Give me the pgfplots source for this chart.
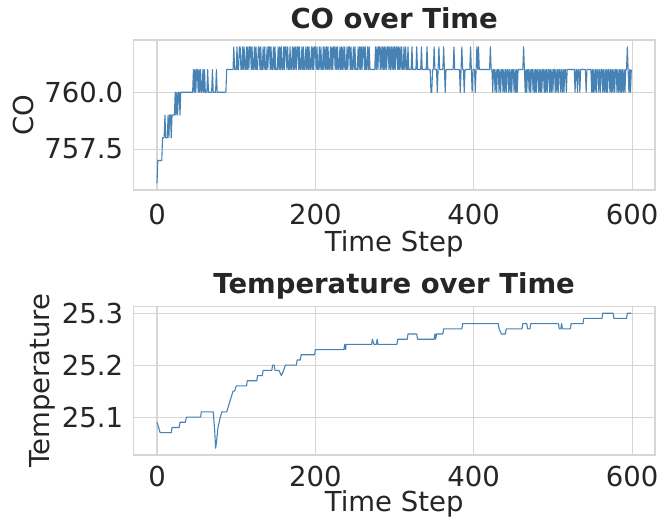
\documentclass[border=0pt]{standalone}
\usepackage{fontspec}
\setmainfont{DejaVu Sans}
\usepackage{pgfplots}
\pgfplotsset{compat=1.18}
\definecolor{txt}{HTML}{262626}
\definecolor{gridc}{HTML}{D6D6D6}
\definecolor{linec}{HTML}{4682B4}
\pgfplotsset{
  myax/.style={
    scale only axis, width=521.7pt,
    xmin=-29.95, xmax=628.95,
    xtick={0,200,400,600},
    grid=major, major grid style={gridc, line width=1.1pt},
    axis line style={gridc, line width=1.1pt},
    major tick length=0pt, tick style={draw=none},
    font=\fontsize{27.5}{33}\selectfont,
    /pgf/number format/assume math mode=true,
    ticklabel style={text=txt, inner sep=0pt},
    yticklabel style={anchor=east, xshift=-10pt, /pgf/number format/.cd, fixed, fixed zerofill, precision=1},
    title style={font=\fontsize{27.5}{33}\selectfont\bfseries, text=txt, inner sep=0pt, anchor=base, at={(axis description cs:0.5,1)}},
    label style={text=txt, inner sep=0pt},
    xlabel={Time Step},
  },
}
\begin{document}
\begin{tikzpicture}
\useasboundingbox (0,0) rectangle (661pt,522pt);
% ---------------- CO ----------------
\begin{axis}[myax, at={(133.3pt,332pt)}, anchor=south west, height=150pt,
  ymin=755.7, ymax=762.3, ytick={757.5,760},
  title={CO over Time}, title style={yshift=5.7pt},
  ylabel={CO}, ylabel style={at={(axis description cs:-0.1917,0.5)}, anchor=base},
  xticklabel style={anchor=base, yshift=-35pt},
  xlabel style={at={(axis description cs:0.5,0)}, anchor=base, yshift=-61.7pt}]
\addplot[linec, line width=1.1pt, no markers, line join=round] table[row sep=\\] {
x y\\
0 756\\1 757\\6 757\\7 758\\9 758\\10 759\\11 758\\13 758\\14 759\\15 758\\16 759\\17 759\\18 758\\19 759\\22 759\\23 760\\24 759\\25 760\\26 759\\27 760\\28 760\\29 759\\30 760\\45 760\\
46 761\\47 760\\48 761\\49 760\\50 761\\51 761\\52 760\\53 761\\54 760\\55 761\\56 760\\57 760\\58 761\\59 760\\60 761\\61 760\\63 760\\64 761\\65 760\\69 760\\70 761\\71 760\\74 760\\75 761\\76 760\\87 760\\88 761\\96 761\\
97 762\\98 761\\99 761\\100 761\\101 762\\102 761\\103 761\\104 762\\105 762\\106 761\\
107 761\\108 762\\109 761\\110 762\\111 761\\112 761\\113 762\\114 761\\115 762\\116 761\\
117 762\\118 762\\119 761\\120 762\\121 761\\122 761\\123 762\\124 761\\125 762\\126 761\\
127 761\\128 762\\129 762\\130 761\\131 762\\132 761\\133 761\\134 762\\135 761\\136 762\\
137 761\\138 761\\139 762\\140 761\\141 762\\142 762\\143 761\\144 762\\145 761\\146 761\\
147 762\\148 761\\149 762\\150 761\\151 761\\152 761\\153 762\\154 761\\155 762\\156 761\\
157 762\\158 761\\159 761\\160 762\\161 761\\162 762\\163 762\\164 761\\165 762\\166 761\\
167 761\\168 762\\169 761\\170 761\\171 762\\172 761\\173 762\\174 761\\175 762\\176 761\\
177 762\\178 762\\179 761\\180 762\\181 761\\182 761\\183 762\\184 761\\185 762\\186 761\\
187 761\\188 762\\189 761\\190 762\\191 761\\192 762\\193 761\\194 761\\195 762\\196 761\\
197 762\\198 761\\199 762\\200 762\\201 761\\202 762\\203 761\\204 761\\205 762\\206 761\\
207 762\\208 761\\209 761\\210 762\\211 761\\212 762\\213 761\\214 762\\215 761\\216 762\\
217 761\\218 761\\219 762\\220 761\\221 762\\222 761\\223 762\\224 762\\225 761\\226 762\\
227 761\\228 762\\229 761\\230 761\\231 762\\232 761\\233 762\\234 761\\235 762\\236 761\\
237 762\\238 761\\239 761\\240 762\\241 761\\242 762\\243 762\\244 761\\245 762\\246 761\\
247 761\\248 762\\249 761\\250 762\\251 761\\252 761\\253 761\\254 762\\255 761\\256 762\\
257 761\\258 762\\259 761\\260 762\\261 762\\262 761\\263 762\\264 761\\265 761\\266 762\\
267 761\\268 762\\269 761\\275 761\\276 762\\
277 761\\278 762\\279 761\\280 762\\281 762\\282 761\\283 762\\284 761\\285 762\\286 761\\
287 762\\288 761\\289 762\\290 761\\291 762\\292 762\\293 761\\294 762\\295 761\\296 762\\
297 761\\298 762\\299 761\\300 762\\301 761\\302 762\\303 762\\304 761\\305 762\\306 761\\
307 762\\308 761\\309 762\\310 761\\311 761\\312 762\\313 761\\314 762\\315 761\\316 761\\
317 762\\318 761\\321 761\\322 762\\323 761\\327 761\\328 762\\329 761\\333 761\\334 762\\335 761\\340 761\\341 762\\342 761\\345 761\\
346 760\\347 760\\348 761\\349 761\\350 762\\351 761\\353 761\\354 760\\355 761\\356 762\\357 761\\361 761\\362 762\\363 761\\364 760\\365 761\\374 761\\375 762\\376 761\\
382 761\\383 760\\384 761\\385 762\\386 761\\387 761\\388 760\\389 761\\395 761\\396 762\\397 761\\398 760\\399 761\\401 761\\402 760\\403 761\\404 762\\405 761\\406 762\\407 761\\
420 761\\421 762\\422 761\\423 761\\424 760\\425 761\\426 761\\
427 760\\428 761\\429 760\\430 761\\431 761\\432 760\\433 761\\434 760\\435 761\\436 761\\
437 760\\438 761\\439 760\\440 761\\441 760\\442 761\\443 761\\444 760\\445 761\\446 760\\
447 761\\448 760\\449 761\\450 761\\451 760\\452 761\\453 760\\454 761\\455 760\\456 761\\
462 761\\463 762\\464 761\\465 760\\466 761\\
467 760\\468 761\\469 761\\470 760\\471 761\\472 760\\473 761\\474 761\\475 760\\476 761\\
477 760\\478 761\\479 760\\480 761\\481 761\\482 760\\483 761\\484 760\\485 761\\486 760\\
487 761\\488 761\\489 760\\490 761\\491 760\\492 761\\493 760\\494 761\\495 761\\496 760\\
497 761\\498 760\\499 761\\500 760\\501 761\\502 761\\503 760\\504 761\\505 760\\506 761\\
507 760\\508 761\\509 761\\510 760\\511 761\\512 760\\513 761\\514 760\\515 761\\516 761\\
517 760\\518 761\\527 761\\528 760\\529 761\\530 761\\531 760\\532 761\\533 761\\534 760\\535 761\\541 761\\542 760\\543 761\\548 761\\
549 760\\550 761\\551 760\\552 761\\553 760\\554 761\\555 760\\556 761\\
557 761\\558 760\\559 761\\560 760\\561 761\\562 761\\563 760\\564 761\\565 760\\566 761\\
567 760\\568 761\\569 760\\570 761\\571 761\\572 760\\573 761\\574 760\\575 761\\576 760\\
577 761\\578 760\\579 761\\580 761\\581 760\\582 761\\583 760\\584 761\\585 760\\586 761\\
587 760\\588 761\\589 760\\590 761\\591 760\\592 761\\593 761\\594 762\\595 761\\596 760\\
597 761\\598 760\\599 761\\
};
\end{axis}
% ---------------- Temperature ----------------
\begin{axis}[myax, at={(133.3pt,67pt)}, anchor=south west, height=148.5pt,
  ymin=25.027, ymax=25.313, ytick={25.1,25.2,25.3},
  title={Temperature over Time}, title style={yshift=6.5pt},
  ylabel={Temperature}, ylabel style={at={(axis description cs:-0.161,0.5)}, anchor=base},
  xticklabel style={anchor=base, yshift=-31.7pt},
  xlabel style={at={(axis description cs:0.5,0)}, anchor=base, yshift=-56.7pt}]
\addplot[linec, line width=1.1pt, no markers, line join=round] table[row sep=\\] {
x y\\
0 25.09\\4 25.07\\18 25.07\\19 25.08\\28 25.08\\29 25.09\\36 25.09\\37 25.10\\55 25.10\\56 25.11\\71 25.11\\73 25.07\\74 25.04\\75 25.05\\77 25.08\\80 25.10\\82 25.11\\88 25.11\\
90 25.12\\92 25.13\\94 25.14\\96 25.15\\98 25.15\\100 25.16\\113 25.16\\114 25.17\\126 25.17\\127 25.18\\133 25.18\\134 25.19\\145 25.19\\146 25.20\\148 25.20\\149 25.19\\154 25.19\\157 25.18\\160 25.19\\162 25.20\\
176 25.20\\177 25.21\\181 25.21\\182 25.22\\199 25.22\\200 25.23\\236 25.23\\237 25.24\\238 25.23\\239 25.24\\271 25.24\\272 25.25\\274 25.24\\277 25.24\\278 25.25\\279 25.24\\303 25.24\\304 25.25\\316 25.25\\
317 25.26\\328 25.26\\329 25.25\\350 25.25\\351 25.26\\352 25.25\\353 25.26\\361 25.26\\362 25.27\\385 25.27\\386 25.28\\431 25.28\\432 25.27\\435 25.26\\440 25.26\\441 25.27\\461 25.27\\462 25.28\\467 25.28\\468 25.27\\471 25.27\\472 25.28\\
507 25.28\\508 25.27\\510 25.27\\511 25.28\\512 25.27\\522 25.27\\523 25.28\\538 25.28\\539 25.29\\562 25.29\\563 25.30\\576 25.30\\577 25.29\\593 25.29\\594 25.30\\599 25.30\\
};
\end{axis}
\end{tikzpicture}
\end{document}
